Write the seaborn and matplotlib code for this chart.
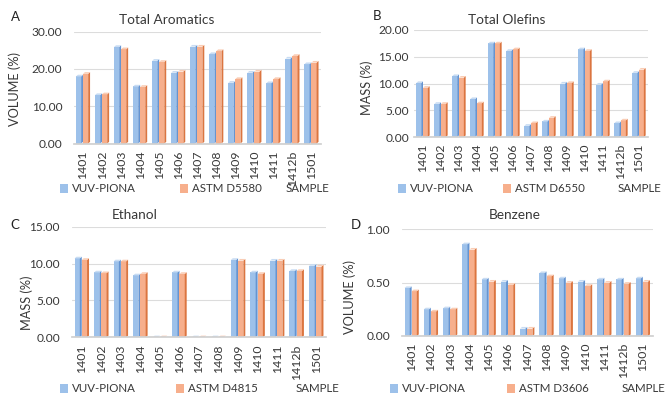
import matplotlib
matplotlib.use('Agg')
import matplotlib.pyplot as plt
import seaborn as sns
import pandas as pd
from matplotlib.patches import Polygon, Patch

samples = ['1401', '1402', '1403', '1404', '1405', '1406', '1407',
           '1408', '1409', '1410', '1411', '1412b', '1501']

aromatics_vuv = [18.0, 13.0, 25.9, 15.3, 22.2, 19.0, 26.0, 24.0, 16.3, 19.0, 16.2, 22.8, 21.3]
aromatics_astm = [18.7, 13.2, 25.3, 15.2, 21.9, 19.3, 26.0, 24.8, 17.3, 19.3, 17.3, 23.5, 21.7]

olefins_vuv = [10.1, 6.2, 11.4, 7.1, 17.5, 16.1, 2.1, 2.9, 10.0, 16.4, 9.8, 2.6, 12.0]
olefins_astm = [9.2, 6.2, 11.1, 6.3, 17.5, 16.4, 2.6, 3.6, 10.1, 16.1, 10.4, 3.1, 12.6]

ethanol_vuv = [10.7, 8.8, 10.3, 8.4, 0.0, 8.8, 0.0, 0.0, 10.5, 8.8, 10.4, 9.0, 9.7]
ethanol_astm = [10.5, 8.7, 10.3, 8.6, 0.0, 8.6, 0.0, 0.0, 10.4, 8.6, 10.4, 9.0, 9.6]

benzene_vuv = [0.45, 0.25, 0.26, 0.86, 0.53, 0.51, 0.07, 0.59, 0.54, 0.51, 0.53, 0.53, 0.54]
benzene_astm = [0.42, 0.23, 0.25, 0.81, 0.51, 0.48, 0.07, 0.56, 0.50, 0.47, 0.50, 0.49, 0.51]

W, H = 671, 403
BLUE, BLUE_DARK, BLUE_TOP = '#9DC1EA', '#6594D1', '#C8DCF3'
ORANGE, ORANGE_DARK, ORANGE_TOP = '#F7AF8C', '#DB7540', '#FACDB5'
TXT = '#383838'

# panel layout in pixels
panels = [
    dict(letter='A', title='Total Aromatics', ylabel='VOLUME (%)', astm='ASTM D5580',
         vuv=aromatics_vuv, ref=aromatics_astm, ymax=30, step=10,
         box=(73.5, 31.7, 321, 143.5), ypad=11, letter_xy=(15, 17), title_xy=(167, 20),
         ylab_xy=(15, 89), leg_y=189, leg_x=(60, 180), sample_x=286),
    dict(letter='B', title='Total Olefins', ylabel='MASS (%)', astm='ASTM D6550',
         vuv=olefins_vuv, ref=olefins_astm, ymax=20, step=5,
         box=(414, 30, 648, 137), ypad=5, letter_xy=(377, 16), title_xy=(507, 20),
         ylab_xy=(367, 88), leg_y=189, leg_x=(398, 503), sample_x=618),
    dict(letter='C', title='Ethanol', ylabel='MASS (%)', astm='ASTM D4815',
         vuv=ethanol_vuv, ref=ethanol_astm, ymax=15, step=5,
         box=(72, 226.7, 326, 337.3), ypad=12, letter_xy=(15, 225), title_xy=(135, 215),
         ylab_xy=(27, 303), leg_y=389, leg_x=(60, 176), sample_x=296),
    dict(letter='D', title='Benzene', ylabel='VOLUME (%)', astm='ASTM D3606',
         vuv=benzene_vuv, ref=benzene_astm, ymax=1.0, step=0.5,
         box=(402, 229.3, 652.5, 336), ypad=12, letter_xy=(356, 225), title_xy=(515, 215),
         ylab_xy=(350, 297), leg_y=389, leg_x=(390, 507), sample_x=622),
]

sns.set_theme(style='white')
plt.rcParams['font.family'] = ['Lato', 'DejaVu Sans']
fig = plt.figure(figsize=(W / 100, H / 100), dpi=100)

for p in panels:
    l, t, r, b = p['box']
    ax = fig.add_axes([l / W, 1 - b / H, (r - l) / W, (b - t) / H])
    df = pd.DataFrame({
        'sample': samples * 2,
        'value': p['vuv'] + p['ref'],
        'method': ['VUV-PIONA'] * len(samples) + [p['astm']] * len(samples),
    })
    sns.barplot(data=df, x='sample', y='value', hue='method', palette=[BLUE, ORANGE],
                width=0.74, saturation=1, legend=False, linewidth=0, ax=ax)

    # fake 3D look: darker right side and lighter top on each bar
    dx = 0.1
    dy = p['ymax'] * 0.015
    n = len(samples)
    for i, bar in enumerate(list(ax.patches)):
        side, top = (BLUE_DARK, BLUE_TOP) if i < n else (ORANGE_DARK, ORANGE_TOP)
        x0 = bar.get_x()
        w = bar.get_width() - dx
        h = bar.get_height()
        bar.set_width(w)
        z = bar.get_zorder() + (0.1 if i >= n else 0)
        bar.set_zorder(z)
        ax.add_patch(Polygon([(x0 + w, 0), (x0 + w + dx, dy), (x0 + w + dx, h + dy), (x0 + w, h)],
                             closed=True, facecolor=side, edgecolor='none', zorder=z))
        ax.add_patch(Polygon([(x0, h), (x0 + dx, h + dy), (x0 + w + dx, h + dy), (x0 + w, h)],
                             closed=True, facecolor=top, edgecolor='none', zorder=z))

    ax.set_ylim(0, p['ymax'])
    ax.set_xlim(-0.5, n - 0.5)
    ticks = [k * p['step'] for k in range(int(round(p['ymax'] / p['step'])) + 1)]
    ax.set_yticks(ticks)
    ax.set_yticklabels([f'{v:.2f}' for v in ticks], fontsize=8.6, color=TXT)
    ax.set_xticks(range(n))
    ax.set_xticklabels(samples, rotation=90, fontsize=8.8, color=TXT)
    ax.tick_params(axis='x', length=0, pad=5)
    ax.tick_params(axis='y', length=0, pad=p['ypad'] * 0.72)
    ax.yaxis.grid(True, color='#DCDCDC', linewidth=0.8)
    ax.set_axisbelow(True)
    for s in ['top', 'right', 'left']:
        ax.spines[s].set_visible(False)
    ax.spines['bottom'].set_color('#D0D0D0')
    ax.set_xlabel('')
    ax.set_ylabel('')

    fig.text(p['title_xy'][0] / W, 1 - p['title_xy'][1] / H, p['title'],
             fontsize=9.8, ha='center', va='center', color=TXT)
    fig.text(p['ylab_xy'][0] / W, 1 - p['ylab_xy'][1] / H, p['ylabel'],
             fontsize=9.2, rotation=90, ha='center', va='center', color=TXT)
    fig.text(p['letter_xy'][0] / W, 1 - p['letter_xy'][1] / H, p['letter'],
             fontsize=9.5, va='center', ha='center', color='#222222')

    for x, col, lab in zip(p['leg_x'], [BLUE, ORANGE], ['VUV-PIONA', p['astm']]):
        fig.legend([Patch(facecolor=col, edgecolor='none')], [lab],
                   loc='center left', bbox_to_anchor=(x / W, 1 - p['leg_y'] / H),
                   frameon=False, fontsize=8.3, handlelength=0.7, handleheight=0.7,
                   handletextpad=0.3, borderpad=0, borderaxespad=0, labelcolor=TXT)
    fig.text(p['sample_x'] / W, 1 - p['leg_y'] / H, 'SAMPLE', fontsize=8.3,
             va='center', ha='left', color=TXT)

fig.savefig('out.png', dpi=100)
